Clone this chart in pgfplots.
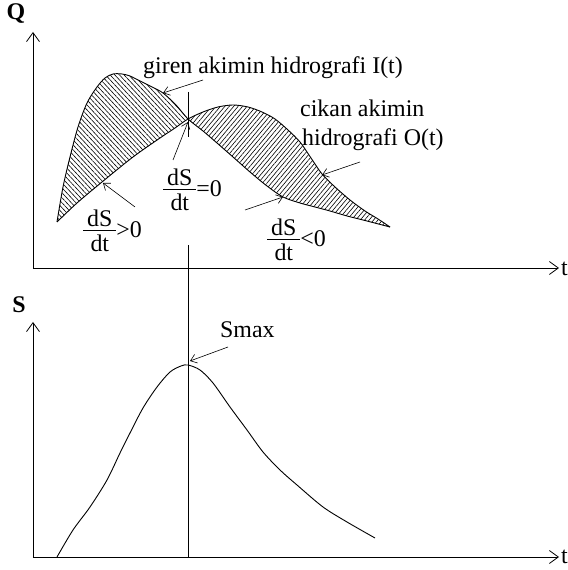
\documentclass[border=0pt]{standalone}
\usepackage{pgfplots}
\pgfplotsset{compat=1.18}
\usetikzlibrary{patterns.meta,arrows.meta}
\usepackage{fontspec}
\setmainfont{Liberation Serif}

% dS/dt as a stacked fraction, bar on the math axis
\newcommand{\dsdt}{{\renewcommand{\arraystretch}{0}%
  \begin{tabular}{@{\,}c@{\,}}\rule[-4bp]{0pt}{4bp}dS\\\hline\rule{0pt}{21bp}dt\end{tabular}}}

\pgfplotsset{
  hydro/.style={
    x=1bp, y=1bp,
    axis lines*=left,
    ticks=none,
    xmin=0, xmax=526, ymin=0,
    clip=false,
    anchor=origin,
    axis line style={line width=0.8bp,
      -{Straight Barb[length=9bp,width=13bp,line width=0.8bp]}},
  },
  curve/.style={black, line width=0.9bp, smooth, mark=none},
}
\tikzset{
  note/.style={black, line width=0.6bp,
    -{Straight Barb[length=6bp,width=9bp,line width=0.6bp]}},
}

\begin{document}
\begin{tikzpicture}[x=1bp, y=1bp, font=\fontsize{24}{28}\selectfont]
\useasboundingbox (0,0) rectangle (568,570);

% ---------------- discharge: inflow and outflow hydrographs ----------------
\begin{axis}[hydro, at={(33,302)}, ymax=236]
  % storage gain (I > O): inflow rising limb, then outflow back
  \addplot[draw=none, mark=none,
    pattern={Lines[angle=-47,distance=3.4bp,line width=0.6bp]}] coordinates {
    (24,46) (30,81) (37,111) (45,141) (54,165) (64,181) (72,190) (80,194)
    (89,194) (97,192) (107,187) (119,181) (130,175) (143,163) (155,149)
    (142,140) (127,130) (100,111) (69,86) (44,65) (24,46)} -- cycle;
  % storage loss (O > I): outflow on top, inflow recession below
  \addplot[draw=none, mark=none,
    pattern={Lines[angle=50,distance=3.4bp,line width=0.6bp]}] coordinates {
    (155,149) (170,156) (185,161) (200,163) (215,161) (229,156) (242,149)
    (255,138) (267,126) (278,110) (289,94) (302,81) (317,68) (332,57)
    (345,49) (357,41) (330,48) (314,52) (297,57) (282,61) (267,65) (250,71)
    (234,82) (217,96) (200,111) (184,125) (170,137) (155,149)} -- cycle;

  % inflow hydrograph I(t)
  \addplot[curve] coordinates {
    (24,46) (30,81) (37,111) (45,141) (54,165) (64,181) (72,190) (80,194)
    (89,194) (97,192) (107,187) (119,181) (130,175) (143,163) (155,149)
    (170,137) (184,125) (200,111) (217,96) (234,82) (250,71) (267,65)
    (282,61) (297,57) (314,52) (330,48) (357,41)};
  % outflow hydrograph O(t)
  \addplot[curve] coordinates {
    (24,46) (44,65) (69,86) (100,111) (127,130) (142,140) (155,149)
    (170,156) (185,161) (200,163) (215,161) (229,156) (242,149) (255,138)
    (267,126) (278,110) (289,94) (302,81) (317,68) (332,57) (345,49) (357,41)};
  % time of peak storage
  \addplot[black, line width=0.8bp, mark=none] coordinates {(155,176) (155,131)};

  \node[font=\fontsize{24}{28}\selectfont\bfseries] at (axis cs:-17,254) {Q};
  \node[anchor=base west, inner sep=0pt] at (axis cs:528,-8) {t};

  \node[anchor=base west, inner sep=0pt] at (axis cs:110,194) {giren akimin hidrografi I(t)};
  \draw[note] (axis cs:170,188) -- (axis cs:130,175);

  \node[anchor=base west, inner sep=0pt] at (axis cs:267,151) {cikan akimin};
  \node[anchor=base west, inner sep=0pt] at (axis cs:269,122) {hidrografi O(t)};
  \draw[note] (axis cs:327,106) -- (axis cs:289,93);

  \node[anchor=west, inner sep=0pt] at (axis cs:130,78) {\dsdt=0};
  \draw[note] (axis cs:140,108) -- (axis cs:155,146);

  \node[anchor=west, inner sep=0pt] at (axis cs:50,37) {\dsdt>0};
  \draw[note] (axis cs:102,61) -- (axis cs:70,85);

  \node[anchor=west, inner sep=0pt] at (axis cs:234,28) {\dsdt<0};
  \draw[note] (axis cs:212,58) -- (axis cs:250,71);
\end{axis}

% ---------------- storage ----------------
\begin{axis}[hydro, at={(33,13)}, ymax=235]
  \addplot[curve] coordinates {
    (24,0) (40,27) (57,50) (74,77) (87,104) (97,124) (110,149) (124,170)
    (137,185) (148,191) (155,192) (167,187) (180,174) (197,150) (214,127)
    (230,105) (247,87) (264,72) (290,50) (314,35) (342,19)};
  \addplot[black, line width=0.8bp, mark=none] coordinates {(155,0) (155,312)};

  \node[font=\fontsize{24}{28}\selectfont\bfseries] at (axis cs:-14,252) {S};
  \node[anchor=base west, inner sep=0pt] at (axis cs:528,-7) {t};

  \node[anchor=base west, inner sep=0pt] at (axis cs:187,219) {Smax};
  \draw[note] (axis cs:195,210) -- (axis cs:157,196);
\end{axis}
\end{tikzpicture}
\end{document}
